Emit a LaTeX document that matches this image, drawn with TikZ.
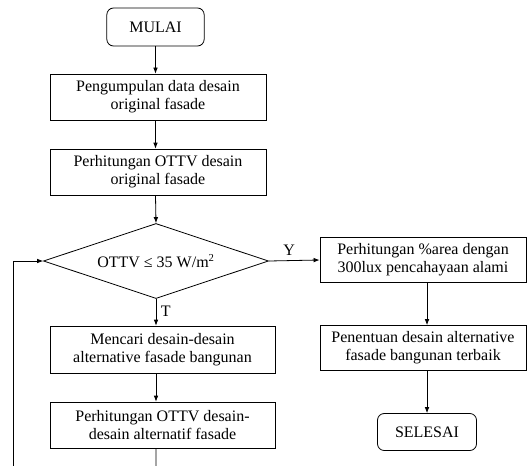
\documentclass[tikz,border=0pt]{standalone}
\usepackage{fontspec}
\setmainfont{Liberation Serif}
\usepackage{tikz}
\usetikzlibrary{arrows.meta,shapes}
\usetikzlibrary{positioning}
\usetikzlibrary{calc}
\tikzset{
    terminal/.style={draw=black, rounded corners=5pt, line width=0.6pt,
        minimum width=73pt, minimum height=28.5pt, inner sep=0pt},
    process/.style={draw=black, line width=0.6pt, align=center,
        minimum width=162pt, minimum height=34.5pt, inner sep=0pt},
    decision/.style={draw=black, diamond, aspect=3, line width=0.6pt,
        minimum width=168.75pt, minimum height=56.25pt, inner sep=0pt},
    flow/.style={draw=black, line width=0.6pt, -{Latex[length=4.5pt,width=3.5pt]}},
    flownoarrow/.style={draw=black, line width=0.6pt},
}
\begin{document}
\begin{tikzpicture}[x=0.75pt, y=0.75pt, font=\fontsize{12}{13.5}\selectfont]
	\useasboundingbox (0,0) rectangle (527,465);
		\node[terminal] (mulai) at (155.5,438) {MULAI};
		\node[process] (kumpul) at (158,368) {Pengumpulan data desain\\original fasade};
		\node[process] (hitung) at (158,293) {Perhitungan OTTV desain\\original fasade};
		\node[decision] (cek) at (156,204) {OTTV ≤ 35 W/m\textsuperscript{2}};
		\node[process, minimum width=168.75pt, minimum height=35.25pt] (cari) at (162.5,115.5)
			{Mencari desain-desain\\alternative fasade bangunan};
		\node[process, minimum width=168.75pt] (hitungalt) at (162.5,40)
			{Perhitungan OTTV desain-\\desain alternatif fasade};
		\node[process, minimum width=154.5pt, minimum height=33.75pt] (area) at (423,205)
			{Perhitungan \%area dengan\\300lux pencahayaan alami};
		\node[process, minimum width=154.5pt, minimum height=33.75pt] (tentu) at (423,117)
			{Penentuan desain alternative\\fasade bangunan terbaik};
		\node[terminal, minimum width=74.25pt, minimum height=27.75pt] (selesai) at (427,33) {SELESAI};
	% main line
		\draw[flow] (mulai.south) -- (mulai.south |- kumpul.north);
		\draw[flow] (mulai.south |- kumpul.south) -- (mulai.south |- hitung.north);
		\draw[flow] (mulai.south |- hitung.south) -- (cek.north);
		\draw[flow] (cek.east) -- node[above, pos=0.4] {Y} (area.west);
		\draw[flow] (cek.south) -- node[right, pos=0.45] {T} (cek.south |- cari.north);
		\draw[flow] (cek.south |- cari.south) -- (cek.south |- hitungalt.north);
	% right column
		\draw[flow] (selesai.north |- area.south) -- (selesai.north |- tentu.north);
		\draw[flow] (selesai.north |- tentu.south) -- (selesai.north);
	% loop back
		\coordinate (bawah) at ($(cek.south |- hitungalt.south)+(0,-25)$);
		\coordinate (kiri) at (13,-25);
		\draw[flownoarrow] (cek.south |- hitungalt.south) -- (bawah) -- (kiri);
		\draw[flow] (kiri) -- (kiri |- cek.west) -- (cek.west);
\end{tikzpicture}
\end{document}
